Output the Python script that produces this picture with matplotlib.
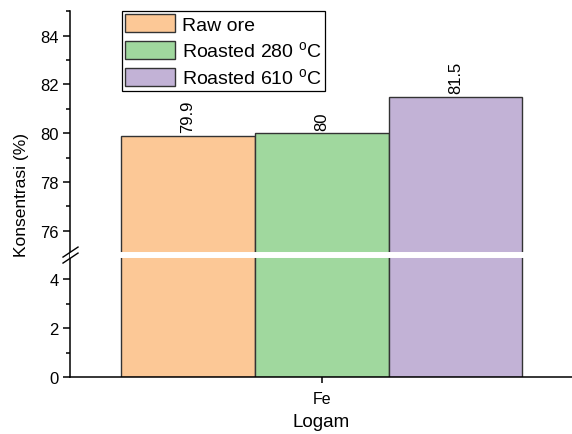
import numpy as np
import matplotlib
matplotlib.use('Agg')
import matplotlib.pyplot as plt
import matplotlib.transforms as mtransforms

plt.rcParams['font.family'] = ['Liberation Sans', 'DejaVu Sans']
plt.rcParams['mathtext.fontset'] = 'custom'
plt.rcParams['mathtext.rm'] = 'Liberation Sans'

# data
metal = 'Fe'
samples = ['Raw ore', 'Roasted 280 $^{\\mathrm{o}}$C', 'Roasted 610 $^{\\mathrm{o}}$C']
conc = [79.9, 80.0, 81.5]
labels = ['79.9', '80', '81.5']
colors = ['#FCC896', '#A0D89E', '#C2B2D6']

# broken axis: 0-5 and 75-85 on one scale
LOW, HIGH = 5, 75


def fwd(y):
    y = np.asarray(y, dtype=float)
    return np.where(y <= LOW, y, np.where(y >= HIGH, y - (HIGH - LOW), LOW))


def inv(v):
    v = np.asarray(v, dtype=float)
    return np.where(v <= LOW, v, v + (HIGH - LOW))


fig = plt.figure(figsize=(5.72, 4.35), dpi=100)
ax = fig.add_axes([0.1224, 0.131, 0.8776, 0.841])
ax.set_yscale('function', functions=(fwd, inv))

w = 1.0
pos = np.array([-1, 0, 1]) * w
for x, v, c, s in zip(pos, conc, colors, samples):
    ax.bar(x, v, width=w, color=c, edgecolor='#333333', linewidth=1.0, label=s, zorder=2)
for x, v, t in zip(pos, conc, labels):
    ax.annotate(t, (x, v), xytext=(0, 2.5), textcoords='offset points',
                rotation=90, ha='center', va='bottom', fontsize=12)

ax.set_xlim(-1.88, 1.87)
ax.set_ylim(0, 85)
ax.set_yticks([0, 2, 4, 76, 78, 80, 82, 84])
ax.set_yticks([1, 3, 77, 79, 81, 83, 85], minor=True)
ax.set_yticklabels(['0', '2', '4', '76', '78', '80', '82', '84'])
ax.set_xticks([0])
ax.set_xticklabels([metal])

for side in ['top', 'right']:
    ax.spines[side].set_visible(False)
ax.spines['left'].set_linewidth(1.1)
ax.spines['bottom'].set_linewidth(1.1)
ax.tick_params(axis='y', which='major', direction='out', length=5, width=1.1, labelsize=12, pad=3)
ax.tick_params(axis='y', which='minor', direction='out', length=3, width=1.1)
ax.tick_params(axis='x', direction='out', length=4, width=1.1, labelsize=11.5, pad=6)

ax.set_ylabel('Konsentrasi (%)', fontsize=12.5, labelpad=8)
ax.set_xlabel('Logam', fontsize=13.5, labelpad=5)

# white gap through the bars at the break
ax.axhline(LOW, xmin=0.004, xmax=0.91, color='white', linewidth=4.3, zorder=3)

# break marks on the y axis
brk = fig.dpi_scale_trans + mtransforms.ScaledTranslation(0, LOW, ax.get_yaxis_transform())
for dy in (-0.03, 0.03):
    ax.plot([-0.07, 0.08], [dy - 0.05, dy + 0.05], color='black', linewidth=1.0,
            transform=brk, clip_on=False, zorder=4)

leg = ax.legend(loc='upper left', bbox_to_anchor=(0.1036, 1.0), borderaxespad=0,
                fontsize=14, handlelength=2.6, handleheight=1.05, handletextpad=0.35,
                labelspacing=0.32, borderpad=0.15, fancybox=False, framealpha=1,
                edgecolor='black')
leg.get_frame().set_linewidth(0.9)

fig.savefig('out.png', dpi=100)
